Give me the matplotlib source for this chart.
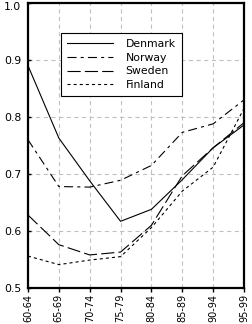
import matplotlib
matplotlib.use("Agg")
import matplotlib.pyplot as plt
import matplotlib.transforms as mtransforms

categories = ["60-64", "65-69", "70-74", "75-79", "80-84", "85-89", "90-94", "95-99"]
denmark = [0.890, 0.763, 0.688, 0.617, 0.638, 0.690, 0.746, 0.786]
norway  = [0.760, 0.678, 0.677, 0.689, 0.715, 0.773, 0.788, 0.830]
sweden  = [0.628, 0.576, 0.558, 0.563, 0.610, 0.697, 0.746, 0.790]
finland = [0.556, 0.541, 0.549, 0.555, 0.606, 0.670, 0.712, 0.815]
yticks = [0.5, 0.6, 0.7, 0.8, 0.9, 1.0]
ytick_labels = ["0.5", "0.6", "0.7", "0.8", "0.9", "1.0"]

plt.rcParams['font.family'] = ['DejaVu Sans']
plt.rcParams['lines.scale_dashes'] = False

fig = plt.figure(figsize=(2.53, 3.24), dpi=100)
ax = fig.add_axes([28/253, 36/324, 216/253, 285/324])

x = list(range(len(categories)))
lw = 0.8
ax.plot(x, denmark, color='black', lw=lw, linestyle='-', label='Denmark')
ax.plot(x, norway, color='black', lw=lw, linestyle=(0, (6.5, 3, 2.2, 3)), label='Norway')
ax.plot(x, sweden, color='black', lw=lw, linestyle=(0, (9.5, 3)), label='Sweden')
ax.plot(x, finland, color='black', lw=lw, linestyle=(0, (2.2, 2.2)), label='Finland')

ax.set_xlim(0, len(categories) - 1)
ax.set_ylim(0.5, 1.0)
ax.set_xticks(x)
ax.set_xticklabels(categories, rotation=90, fontsize=7.0)
ax.set_yticks(yticks)
ax.set_yticklabels(ytick_labels, fontsize=7.8)

ax.tick_params(axis='x', direction='out', length=3, width=1, pad=1)
ax.tick_params(axis='y', direction='in', length=2, width=1, pad=5)

# nudge the top label down so it stays inside the figure
top_label = ax.get_yticklabels()[-1]
top_label.set_transform(top_label.get_transform() +
                        mtransforms.ScaledTranslation(0, -3/100, fig.dpi_scale_trans))

ax.grid(True, color='#c0c0c0', linestyle=(0, (3, 2.5)), linewidth=0.8)
for s in ax.spines.values():
    s.set_linewidth(1.6)
    s.set_color('black')

leg = ax.legend(loc='upper left', bbox_to_anchor=(0.153, 0.895), borderaxespad=0,
                fontsize=7.8, frameon=True, fancybox=False, shadow=False,
                handlelength=4.2, handletextpad=1.2, labelspacing=0.35,
                borderpad=0.55)
leg.get_frame().set_edgecolor('black')
leg.get_frame().set_linewidth(0.8)
leg.get_frame().set_alpha(1)

fig.savefig("out.png", dpi=100)
